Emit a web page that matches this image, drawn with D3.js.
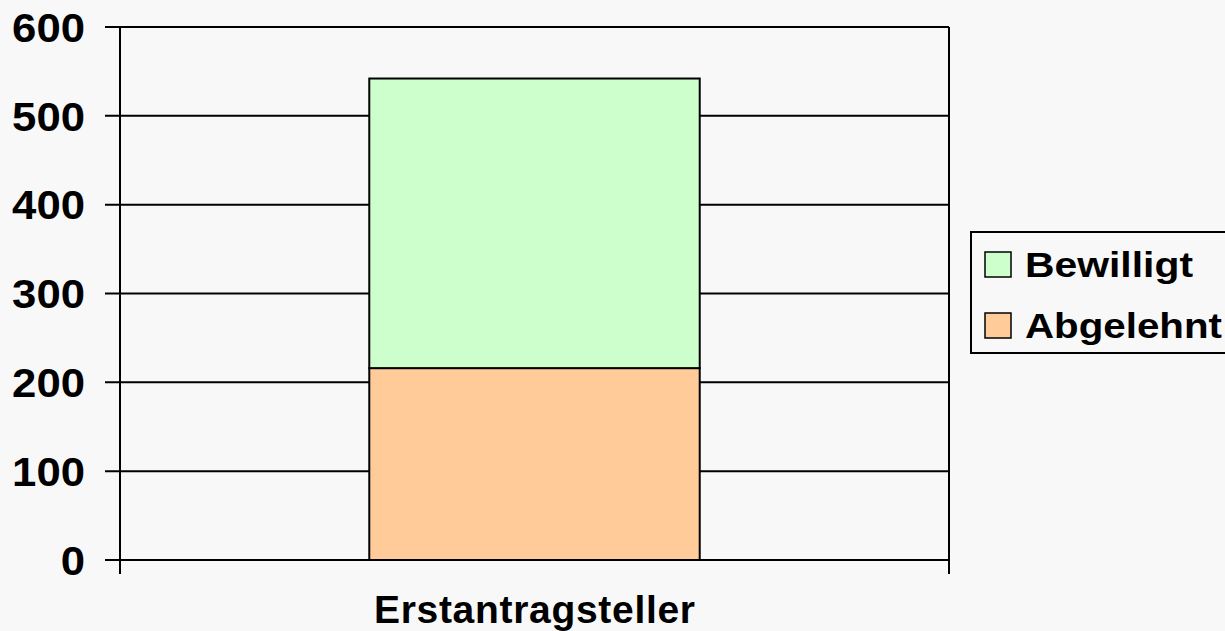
<!DOCTYPE html>
<html lang="de">
<head>
  <meta charset="UTF-8">
  <title>Erstantragsteller</title>
  <script src="https://d3js.org/d3.v7.min.js"></script>
  <style>
    body {
      margin: 0;
      background: #f8f8f8;
    }
    svg {
      display: block;
      font-family: "Liberation Sans", Arial, sans-serif;
      font-weight: bold;
    }
  </style>
</head>
<body>
  <svg width="1225" height="631"></svg>

  <script>
    const categories = ["Erstantragsteller"];
    const seriesNames = ["Abgelehnt", "Bewilligt"];
    const abgelehnt = [216];
    const bewilligt = [326];
    const yTicks = [0, 100, 200, 300, 400, 500, 600];
    const colors = { "Bewilligt": "#ccffcc", "Abgelehnt": "#ffcc99" };

    const rows = categories.map((c, i) => ({
      category: c,
      Abgelehnt: abgelehnt[i],
      Bewilligt: bewilligt[i]
    }));

    const svg = d3.select("svg");
    const plotLeft = 120, plotRight = 949, plotTop = 27, plotBottom = 560;

    const x = d3.scaleBand()
      .domain(categories)
      .range([plotLeft, plotRight])
      .padding(0.43);

    const y = d3.scaleLinear()
      .domain([0, 600])
      .range([plotBottom, plotTop]);

    // gridlines
    svg.append("g")
      .selectAll("line")
      .data(yTicks)
      .enter().append("line")
      .attr("x1", plotLeft - 15)
      .attr("x2", plotRight)
      .attr("y1", d => y(d))
      .attr("y2", d => y(d))
      .attr("stroke", "#000")
      .attr("stroke-width", 2);

    // bars
    const stack = d3.stack().keys(seriesNames)(rows);
    svg.append("g")
      .selectAll("g")
      .data(stack)
      .enter().append("g")
      .attr("fill", d => colors[d.key])
      .selectAll("rect")
      .data(d => d)
      .enter().append("rect")
      .attr("x", d => x(d.data.category))
      .attr("width", x.bandwidth())
      .attr("y", d => y(d[1]))
      .attr("height", d => y(d[0]) - y(d[1]))
      .attr("stroke", "#000")
      .attr("stroke-width", 2);

    // left axis line and right border
    [plotLeft, plotRight].forEach(px => {
      svg.append("line")
        .attr("x1", px).attr("x2", px)
        .attr("y1", plotTop).attr("y2", plotBottom + 14)
        .attr("stroke", "#000")
        .attr("stroke-width", 2);
    });

    // y tick labels
    svg.append("g")
      .selectAll("text")
      .data(yTicks)
      .enter().append("text")
      .attr("x", 85)
      .attr("y", d => y(d))
      .attr("dy", "0.36em")
      .attr("text-anchor", "end")
      .attr("font-size", 41)
      .attr("textLength", d => String(d).length * 24.3)
      .attr("lengthAdjust", "spacingAndGlyphs")
      .text(d => d);

    // x label
    svg.append("g")
      .selectAll("text")
      .data(categories)
      .enter().append("text")
      .attr("x", d => x(d) + x.bandwidth() / 2)
      .attr("y", 623)
      .attr("text-anchor", "middle")
      .attr("font-size", 39)
      .attr("textLength", 321)
      .text(d => d);

    // legend
    const legend = svg.append("g");
    legend.append("rect")
      .attr("x", 971)
      .attr("y", 232)
      .attr("width", 270)
      .attr("height", 121)
      .attr("fill", "none")
      .attr("stroke", "#000")
      .attr("stroke-width", 2);

    const legendItems = ["Bewilligt", "Abgelehnt"];
    const legendWidths = { "Bewilligt": 168, "Abgelehnt": 197 };
    const li = legend.selectAll("g.item")
      .data(legendItems)
      .enter().append("g")
      .attr("class", "item")
      .attr("transform", (d, i) => `translate(985, ${252 + i * 61})`);

    li.append("rect")
      .attr("width", 26)
      .attr("height", 25)
      .attr("fill", d => colors[d])
      .attr("stroke", "#000")
      .attr("stroke-width", 1.5);

    li.append("text")
      .attr("x", 40)
      .attr("y", 25)
      .attr("font-size", 35)
      .attr("textLength", d => legendWidths[d])
      .attr("lengthAdjust", "spacingAndGlyphs")
      .text(d => d);
  </script>
</body>
</html>
